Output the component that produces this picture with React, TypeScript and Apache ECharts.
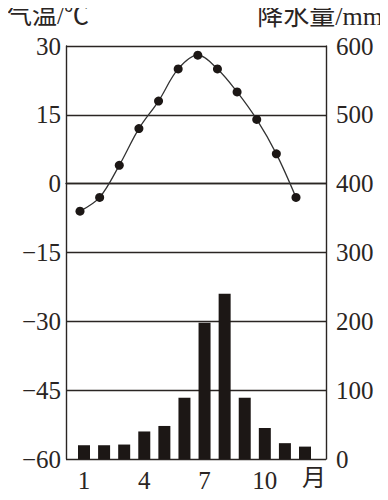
import React, { useEffect, useRef } from "react";
import * as echarts from "echarts";

const months = [1, 2, 3, 4, 5, 6, 7, 8, 9, 10, 11, 12];
const temperature = [-6, -3, 4, 12, 18, 25, 28, 25, 20, 14, 6.5, -3];
const precipitation = [20, 20, 21, 40, 48, 89, 198, 240, 89, 45, 23, 18];
const monthTicks = [1, 4, 7, 10];
const monthUnit = "月";
const tempTitle = "气温/℃";
const precipTitle = "降水量/mm";

const FONT = "'Liberation Serif', 'Noto Sans CJK SC', serif";
const INK = "#2a2523";

export default function App() {
  const ref = useRef<HTMLDivElement>(null);

  useEffect(() => {
    if (!ref.current) return;
    const chart = echarts.init(ref.current, undefined, { renderer: "svg" });
    const fmtTemp = (v: number) => (v < 0 ? "\u2212" + Math.abs(v) : String(v));
    chart.setOption({
      animation: false,
      backgroundColor: "#ffffff",
      textStyle: { fontFamily: FONT, color: INK },
      grid: { left: 66, right: 62, top: 46, bottom: 41, containLabel: false },
      graphic: [
        {
          type: "text",
          left: 7,
          top: 3,
          style: { text: tempTitle, font: `25px ${FONT}`, fill: INK },
        },
        {
          type: "text",
          right: 5,
          top: 3,
          style: { text: precipTitle, font: `26px ${FONT}`, fill: INK },
        },
        {
          type: "text",
          left: 302,
          top: 466,
          style: { text: monthUnit, font: `24px ${FONT}`, fill: INK },
        },
      ],
      xAxis: [
        {
          type: "value",
          min: 0.104,
          max: 13.045,
          axisLine: { show: true, lineStyle: { color: INK, width: 1.4 } },
          axisTick: { show: false },
          splitLine: { show: false },
          axisLabel: {
            customValues: monthTicks,
            fontSize: 25,
            fontFamily: FONT,
            color: INK,
            margin: 9,
          },
        },
        {
          type: "value",
          min: 0.287,
          max: 13.528,
          show: false,
        },
      ],
      yAxis: [
        {
          type: "value",
          position: "left",
          min: -60,
          max: 30,
          interval: 15,
          axisLine: { show: true, lineStyle: { color: INK, width: 1.4 } },
          axisTick: { show: false },
          splitLine: { show: true, lineStyle: { color: INK, width: 1.4 } },
          axisLabel: {
            fontSize: 25,
            fontFamily: FONT,
            color: INK,
            margin: 5,
            padding: [5, 0, 0, 0],
            formatter: fmtTemp,
          },
        },
        {
          type: "value",
          position: "right",
          min: 0,
          max: 600,
          interval: 100,
          axisLine: { show: true, lineStyle: { color: INK, width: 1.4 } },
          axisTick: { show: false },
          splitLine: { show: false },
          axisLabel: {
            fontSize: 25,
            fontFamily: FONT,
            color: INK,
            margin: 10,
            padding: [5, 0, 0, 0],
          },
        },
      ],
      series: [
        {
          type: "bar",
          xAxisIndex: 0,
          yAxisIndex: 1,
          data: months.map((m, i) => [m, precipitation[i]]),
          barWidth: 12,
          itemStyle: { color: "#1c1715" },
        },
        {
          type: "line",
          xAxisIndex: 1,
          yAxisIndex: 0,
          data: months.map((m, i) => [m, temperature[i]]),
          smooth: 0.35,
          symbol: "circle",
          symbolSize: 9,
          lineStyle: { color: "#333", width: 1.3 },
          itemStyle: { color: "#1c1715" },
        },
      ],
    });
    return () => chart.dispose();
  }, []);

  return <div ref={ref} style={{ width: 388, height: 500, margin: -8 }} />;
}
